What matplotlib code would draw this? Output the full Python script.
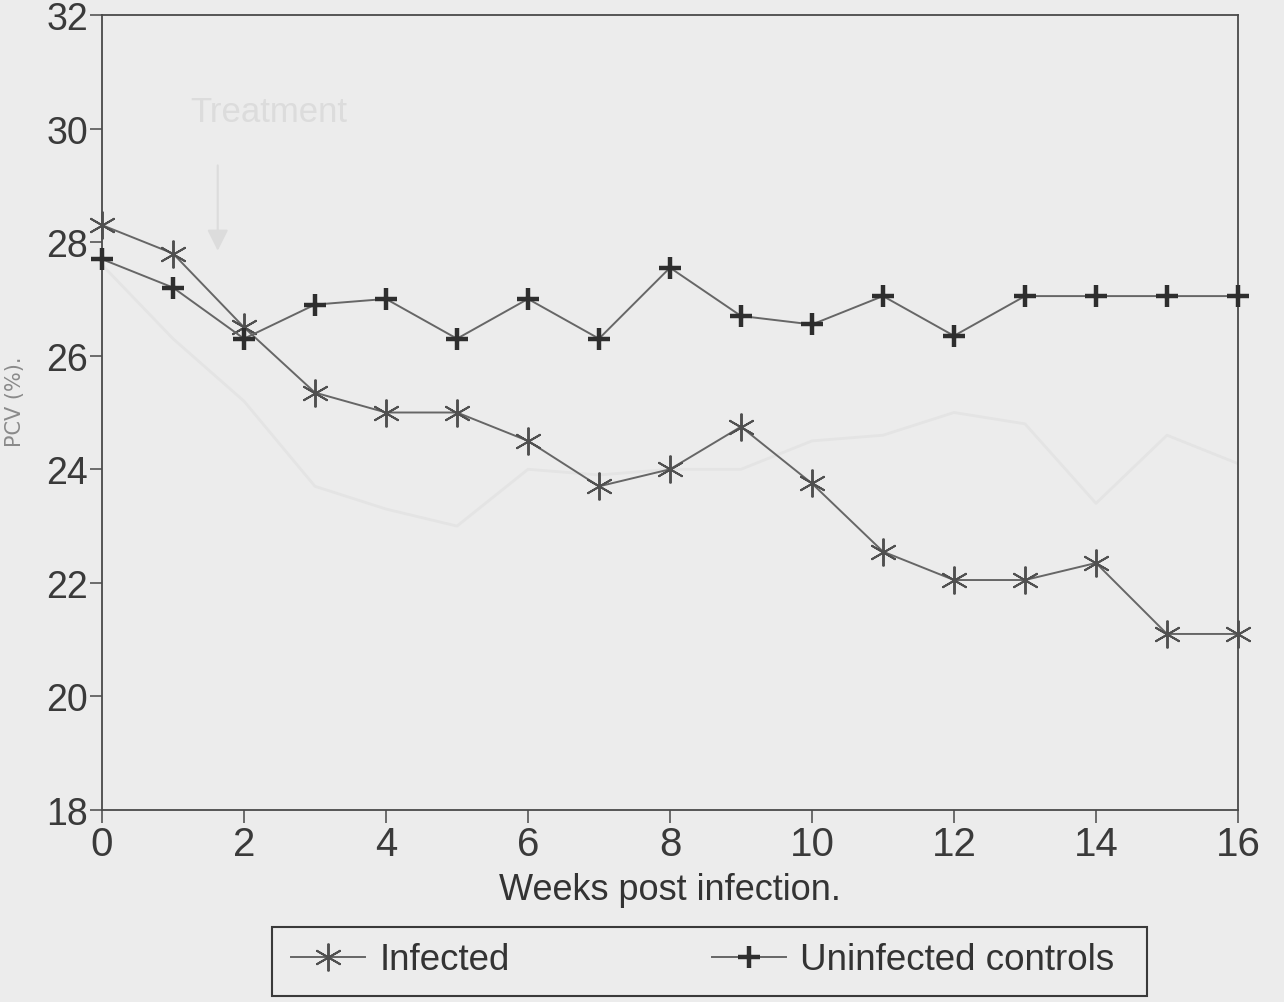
import matplotlib
matplotlib.use("Agg")
import matplotlib.pyplot as plt
from matplotlib.patches import Rectangle

weeks = list(range(17))
infected = [28.3, 27.8, 26.5, 25.35, 25.0, 25.0, 24.5, 23.7, 24.0, 24.75, 23.75,
            22.55, 22.05, 22.05, 22.35, 21.1, 21.1]
uninfected = [27.7, 27.2, 26.3, 26.9, 27.0, 26.3, 27.0, 26.3, 27.55, 26.7, 26.55,
              27.05, 26.35, 27.05, 27.05, 27.05, 27.05]
# faint show-through line from the reverse page of the scan
ghost = [27.6, 26.3, 25.2, 23.7, 23.3, 23.0, 24.0, 23.9, 24.0, 24.0, 24.5,
         24.6, 25.0, 24.8, 23.4, 24.6, 24.1]
xticks = [0, 2, 4, 6, 8, 10, 12, 14, 16]
yticks = [18, 20, 22, 24, 26, 28, 30, 32]

font = "Liberation Sans"
bg = "#ececec"
fig = plt.figure(figsize=(12.84, 10.03), dpi=100, facecolor=bg)
ax = fig.add_axes([102/1284, 1-811/1003, (1238-102)/1284, (811-16)/1003])
ax.set_facecolor(bg)

ax.plot(weeks, ghost, color="#e4e4e4", lw=2.0, zorder=1)
ax.text(2.35, 30.3, "Treatment", color="#dcdcdc", fontsize=25, family=font,
        ha="center", va="center", zorder=1)
ax.annotate("", xy=(1.63, 27.8), xytext=(1.63, 29.4),
            arrowprops=dict(arrowstyle="-|>", color="#dcdcdc", lw=1.5,
                            mutation_scale=32), zorder=1)

line_col = "#666666"
l1, = ax.plot(weeks, infected, color=line_col, lw=1.4, marker=(6, 2, 0),
              markersize=20, markeredgewidth=1.4, markeredgecolor="#505050",
              label="Infected", zorder=3, clip_on=False)
l2, = ax.plot(weeks, uninfected, color=line_col, lw=1.4, marker="+",
              markersize=16, markeredgewidth=3.2, markeredgecolor="#2e2e2e",
              label="Uninfected controls", zorder=3, clip_on=False)

ax.set_xlim(0, 16)
ax.set_ylim(18, 32)
ax.set_xticks(xticks)
ax.set_yticks(yticks)
ax.set_xticklabels([str(v) for v in xticks], fontsize=29, family=font, color="#3a3a3a")
ax.set_yticklabels([str(v) for v in yticks], fontsize=27, family=font, color="#3a3a3a")
ax.tick_params(axis="x", direction="out", length=9, width=1.2, color="#555555", pad=2)
ax.tick_params(axis="y", direction="out", length=9, width=1.2, color="#555555", pad=1)
for s in ax.spines.values():
    s.set_color("#4a4a4a")
    s.set_linewidth(1.3)

ax.set_xlabel("Weeks post infection.", fontsize=26, family=font, color="#333333",
              labelpad=6)
fig.text(15/1284, 1-402/1003, "PCV (%).", rotation=90, fontsize=15,
         family="DejaVu Sans", color="#8a8a8a", ha="center", va="center")

# legend frame drawn separately to match the reference box
fig.patches.append(Rectangle((272/1284, 1-997/1003), (1147-272)/1284, (997-928)/1003,
                             transform=fig.transFigure, fill=True, facecolor=bg,
                             edgecolor="#3a3a3a", linewidth=1.5, zorder=0))
leg = fig.legend(handles=[l1, l2], loc="center left",
                 bbox_to_anchor=(291/1284, 1-961/1003),
                 ncol=2, frameon=False, prop={"family": font, "size": 26.5},
                 handlelength=2.0, columnspacing=5.5, handletextpad=0.4,
                 borderpad=0.0, borderaxespad=0)
for t in leg.get_texts():
    t.set_color("#333333")

fig.savefig("out.png", dpi=100, facecolor=bg)
